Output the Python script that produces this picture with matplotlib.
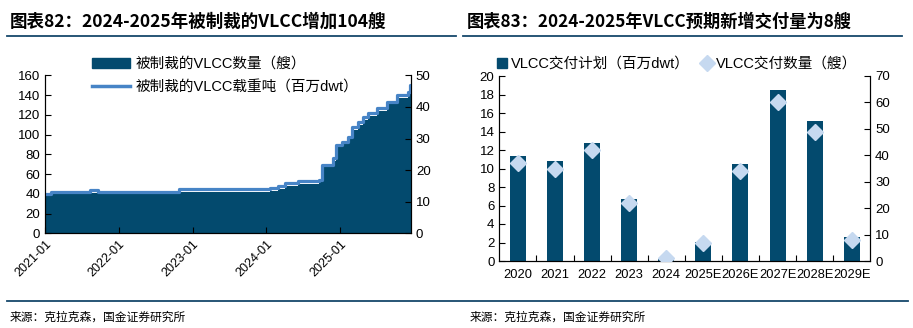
import pandas as pd
import numpy as np
import matplotlib
matplotlib.use('Agg')
import matplotlib.pyplot as plt
import matplotlib.dates as mdates
from matplotlib.patches import Patch
from matplotlib.lines import Line2D

plt.rcParams['font.family'] = ['Liberation Sans', 'Noto Sans CJK SC', 'DejaVu Sans']

DARK = '#034a6e'
LINE = '#4784c6'
LIGHT = '#c6d9f0'
RULE = '#16486b'

# 被制裁的VLCC：变化时点、数量（艘）、载重吨（百万dwt）
sanction_dates = ['2021-01-01', '2021-02-01', '2021-08-12', '2021-09-18', '2022-10-28',
                  '2024-01-19', '2024-03-01', '2024-04-03', '2024-06-07', '2024-09-20',
                  '2024-10-01', '2024-11-27', '2024-12-11', '2025-01-08', '2025-02-10',
                  '2025-02-26', '2025-03-31', '2025-04-25', '2025-05-20', '2025-06-30',
                  '2025-08-19', '2025-10-07', '2025-12-04', '2025-12-12', '2025-12-17']
sanction_count = [38, 40, 41, 40, 42, 43, 45, 48, 50, 52, 67, 73, 87, 90, 95,
                  105, 110, 115, 119, 124, 131, 137, 141, 148, 148]
sanction_dwt = [12.4, 13.1, 13.6, 13.1, 13.9, 14.2, 15.0, 15.8, 16.6, 17.0, 21.6, 23.7,
                27.9, 29.0, 30.6, 33.7, 35.3, 36.9, 38.0, 39.6, 41.7, 43.8, 44.8, 46.9, 46.9]

# VLCC交付
years = ['2020', '2021', '2022', '2023', '2024', '2025E', '2026E', '2027E', '2028E', '2029E']
delivery_dwt = [11.35, 10.8, 12.75, 6.7, 0.25, 2.05, 10.5, 18.5, 15.1, 2.55]
delivery_num = [37, 35, 42, 22, 1, 7, 34, 60, 49, 8]

fig = plt.figure(figsize=(9.13, 3.28), dpi=100)

# 标题与分隔线
fig.text(10 / 913, 1 - 22 / 328, '图表82：2024-2025年被制裁的VLCC增加104艘',
         fontsize=12.6, fontweight='bold', va='center', ha='left',
         family=['Noto Sans CJK SC'])
fig.text(467 / 913, 1 - 22 / 328, '图表83：2024-2025年VLCC预期新增交付量为8艘',
         fontsize=12.4, fontweight='bold', va='center', ha='left',
         family=['Noto Sans CJK SC'])
fig.add_artist(Line2D([7 / 913, 456 / 913], [1 - 36 / 328] * 2, color=RULE, lw=1.3))
fig.add_artist(Line2D([463 / 913, 902 / 913], [1 - 36 / 328] * 2, color=RULE, lw=1.3))
fig.add_artist(Line2D([7 / 913, 908 / 913], [1 - 301 / 328] * 2, color=RULE, lw=1.3))
fig.text(10 / 913, 1 - 317 / 328, '来源：克拉克森，国金证券研究所', fontsize=8.5,
         va='center', ha='left', family=['Noto Sans CJK SC'])
fig.text(470 / 913, 1 - 317 / 328, '来源：克拉克森，国金证券研究所', fontsize=8.5,
         va='center', ha='left', family=['Noto Sans CJK SC'])

# 左图：面积 + 折线
dates = pd.to_datetime(sanction_dates)
ax1 = fig.add_axes([45 / 913, (328 - 233.3) / 328, 366 / 913, 158 / 328])
ax1.fill_between(dates, sanction_count, 0, step='post', color=DARK, lw=0)
ax1.set_ylim(0, 160)
ax1.set_yticks(range(0, 161, 20))
ax1.set_xlim(dates[0], dates[-1])
ax1.xaxis.set_major_locator(mdates.YearLocator())
ax1.xaxis.set_major_formatter(mdates.DateFormatter('%Y-%m'))
ax1.tick_params(axis='y', direction='in', labelsize=9.5, length=4, width=0.8)
ax1.tick_params(axis='x', direction='in', labelsize=9, length=4, width=0.8)
for lbl in ax1.get_xticklabels():
    lbl.set_rotation(45)
    lbl.set_ha('right')
    lbl.set_rotation_mode('anchor')
ax1.spines['top'].set_visible(False)

ax1r = ax1.twinx()
ax1r.plot(dates, sanction_dwt, drawstyle='steps-post', color=LINE, lw=2.3)
ax1r.set_ylim(0, 50)
ax1r.set_yticks(range(0, 51, 10))
ax1r.tick_params(axis='y', direction='in', labelsize=9.5, length=4, width=0.8)
ax1r.spines['top'].set_visible(False)

fig.legend(handles=[Patch(color=DARK, label='被制裁的VLCC数量（艘）'),
                    Line2D([], [], color=LINE, lw=2.5, label='被制裁的VLCC载重吨（百万dwt）')],
           loc='upper center', bbox_to_anchor=(225 / 913, 1 - 57 / 328), frameon=False,
           fontsize=10.5, handlelength=2.6, handleheight=0.75, handletextpad=0.35,
           labelspacing=0.65, borderpad=0, borderaxespad=0)

# 右图：柱状 + 菱形散点
x = np.arange(len(years))
ax2 = fig.add_axes([499.3 / 913, (328 - 261) / 328, 371 / 913, 185 / 328])
ax2.bar(x, delivery_dwt, width=0.43, color=DARK, zorder=2)
ax2.set_ylim(0, 20)
ax2.set_yticks(range(0, 21, 2))
ax2.set_xlim(-0.5, len(years) - 0.5)
ax2.set_xticks(x)
ax2.set_xticklabels(years)
ax2.set_xticks(x[:-1] + 0.5, minor=True)
ax2.tick_params(axis='x', which='major', length=0, labelsize=9.3, pad=6)
ax2.tick_params(axis='x', which='minor', direction='in', length=4, width=0.8)
ax2.tick_params(axis='y', direction='in', labelsize=9.5, length=4, width=0.8)
ax2.spines['top'].set_visible(False)

ax2r = ax2.twinx()
ax2r.plot(x, delivery_num, ls='none', marker='D', ms=8, color=LIGHT, zorder=3)
ax2r.set_ylim(0, 70)
ax2r.set_yticks(range(0, 71, 10))
ax2r.tick_params(axis='y', direction='in', labelsize=9.5, length=4, width=0.8)
ax2r.spines['top'].set_visible(False)

fig.legend(handles=[Patch(color=DARK, label='VLCC交付计划（百万dwt）'),
                    Line2D([], [], ls='none', marker='D', ms=8, color=LIGHT,
                           label='VLCC交付数量（艘）')],
           loc='upper center', bbox_to_anchor=(677 / 913, 1 - 57 / 328), frameon=False,
           ncol=2, fontsize=10.5, handlelength=0.7, handleheight=0.7, handletextpad=0.3,
           columnspacing=0.8, borderpad=0, borderaxespad=0)

plt.savefig('out.png', dpi=100)
